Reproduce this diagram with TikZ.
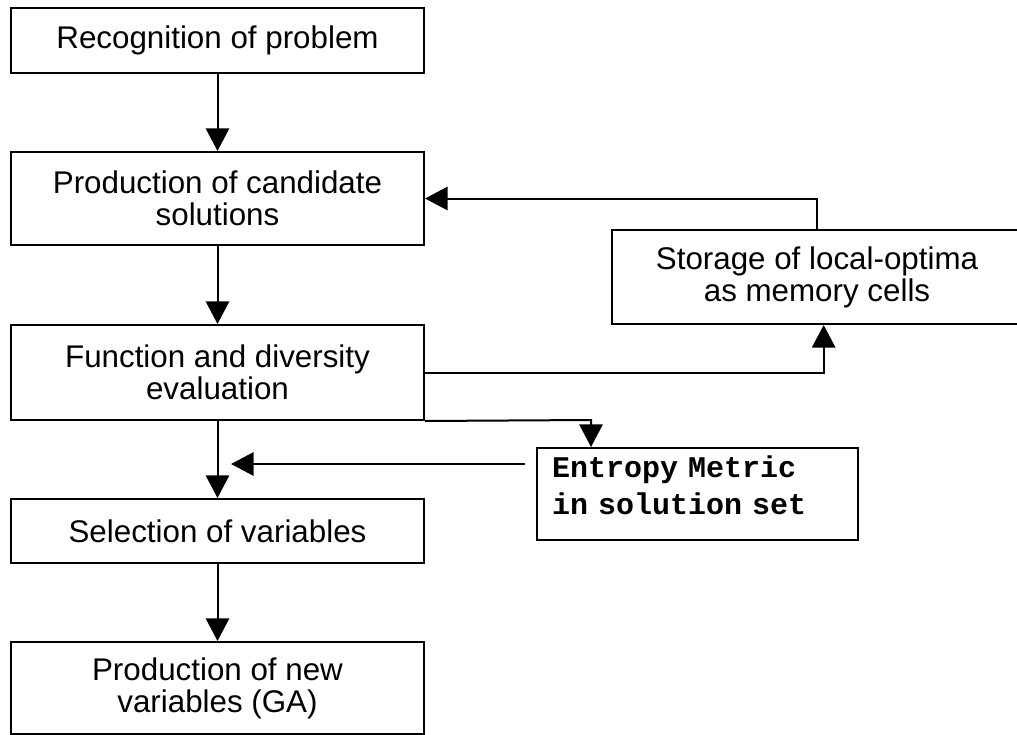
\documentclass[tikz,border=0pt]{standalone}
\usepackage{fontspec}
\setmainfont{Liberation Sans}
\newfontfamily\monof{Liberation Mono}
\usetikzlibrary{arrows.meta}
\begin{document}
\begin{tikzpicture}[x=0.75pt,y=-0.75pt,
  box/.style={draw, line width=1.5pt, font=\fontsize{23.5}{24}\selectfont, align=center, inner sep=0pt},
  conn/.style={line width=1.5pt, -{Triangle[length=17pt,width=17.5pt]}}]
\useasboundingbox (0,0) rectangle (1017,735);
\node[box, minimum width=309.75pt, minimum height=48.75pt] (b1) at (217.5,40.5) {Recognition of problem};
\node[box, minimum width=309.75pt, minimum height=69.75pt] (b2) at (217.5,198.5) {Production of candidate\\solutions};
\node[box, minimum width=309.75pt, minimum height=71.25pt] (b3) at (217.5,372.5) {Function and diversity\\evaluation};
\node[box, minimum width=309.75pt, minimum height=48pt] (b4) at (217.5,531) {Selection of variables};
\node[box, minimum width=309.75pt, minimum height=69pt] (b5) at (217.5,688) {Production of new\\variables (GA)};
\node[box, minimum width=307.5pt, minimum height=70.5pt] (st) at (817,277) {Storage of local-optima\\as memory cells};
\node[draw, line width=1.5pt, minimum width=240.75pt, minimum height=69pt, inner sep=0pt,
  text width=218pt, align=left, font=\monof\bfseries\fontsize{22.5}{27.5}\selectfont] (en) at (697.5,494)
  {Entropy Metric\\in solution set\\[-14pt]\mbox{}};
\draw[conn] (b1) -- (b2);
\draw[conn] (b2) -- (b3);
\draw[conn] (b3) -- (b4);
\draw[conn] (b4) -- (b5);
\draw[conn] (st.north) |- (b2.east);
\draw[conn] (b3.east) -| ([xshift=5pt]st.south);
\coordinate (ec) at (591,420);
\draw[conn] (b3.south east) -- (ec) -- (ec |- en.north);
\coordinate (es) at (525,464);
\coordinate (ee) at (231,464);
\draw[conn] (es) -- (ee);
\end{tikzpicture}
\end{document}
